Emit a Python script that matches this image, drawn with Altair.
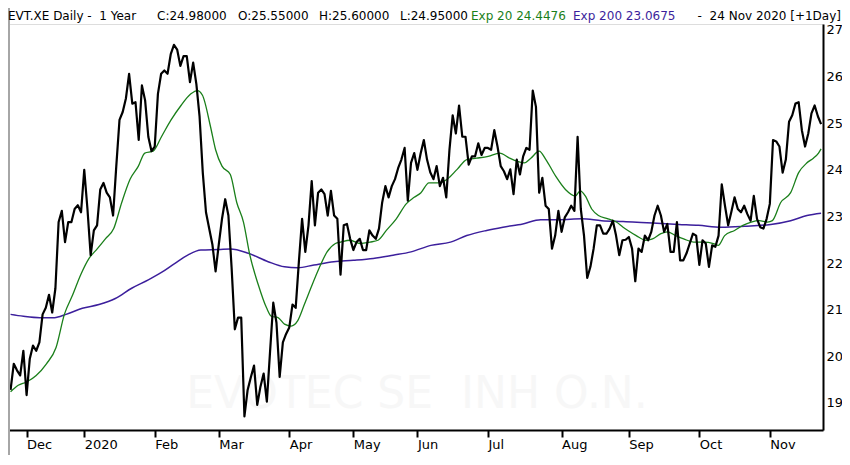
import altair as alt
import pandas as pd

# ---- data (trading-day index 0 = 25 Nov 2019) ----
CLOSE = [
    19.28, 19.84, 19.70, 19.59, 20.12, 19.17, 19.95, 20.23, 20.12, 20.30,
    20.90, 21.04, 21.32, 20.94, 21.46, 22.88, 23.12, 22.45, 22.88, 22.88,
    23.16, 23.24, 23.09, 24.00, 23.16, 22.17, 22.70, 22.81, 23.58, 23.72,
    23.51, 23.41, 23.02, 24.08, 25.07, 25.24, 25.53, 26.06, 25.42, 25.45,
    24.64, 25.81, 25.49, 24.71, 24.40, 24.50, 25.63, 26.06, 26.13, 26.06,
    26.48, 26.68, 26.58, 26.23, 26.44, 26.44, 25.88, 26.30, 25.84, 25.14,
    23.94, 23.09, 22.74, 22.40, 21.82, 22.40, 22.95, 23.37, 23.02, 21.90,
    20.58, 20.83, 20.83, 18.71, 19.28, 19.55, 19.80, 18.96, 19.35, 19.63,
    19.03, 20.10, 21.15, 20.72, 19.56, 20.30, 20.48, 20.62, 21.11, 21.04,
    22.03, 22.95, 22.24, 22.81, 23.76, 22.81, 23.51, 23.58, 23.48, 23.02,
    23.55, 23.02, 22.95, 21.75, 22.81, 22.84, 22.52, 22.28, 22.45, 22.52,
    22.28, 22.28, 22.70, 22.59, 22.52, 22.74, 23.30, 23.65, 23.41, 23.65,
    23.80, 24.04, 24.22, 24.47, 23.34, 24.15, 24.36, 24.00, 24.35, 24.64,
    24.22, 23.95, 23.80, 24.08, 23.65, 23.83, 23.41, 24.43, 25.17, 24.78,
    25.38, 24.71, 24.71, 24.11, 24.29, 24.29, 24.57, 24.32, 24.47, 24.47,
    24.43, 24.85, 24.50, 24.08, 23.97, 23.80, 24.01, 23.48, 24.22, 23.90,
    24.29, 24.47, 24.43, 25.70, 25.35, 23.51, 23.83, 23.23, 23.16, 22.31,
    22.59, 23.12, 22.67, 22.98, 23.09, 23.23, 23.12, 24.71, 23.16, 22.59,
    21.68, 21.92, 22.31, 22.81, 22.81, 22.63, 22.63, 22.74, 22.91, 22.59,
    22.17, 22.49, 22.50, 22.56, 22.31, 21.61, 22.31, 22.24, 22.59, 22.49,
    22.67, 23.02, 23.23, 23.02, 22.67, 22.84, 22.24, 22.24, 22.88, 22.06,
    22.06, 22.21, 22.42, 22.63, 22.59, 21.96, 22.49, 22.42, 21.92, 22.38,
    22.35, 22.59, 23.69, 23.23, 22.81, 23.10, 23.41, 23.16, 23.09, 23.23,
    23.05, 22.91, 23.44, 22.95, 22.77, 22.74, 22.95, 23.27, 24.64, 24.61,
    24.50, 23.94, 24.22, 25.03, 25.17, 25.42, 25.45, 24.85, 24.50, 24.78,
    25.21, 25.38, 25.15, 24.98,
]

EMA20_DAY = [0, 2.4, 5, 8, 11.2, 14.2, 16.8, 19.4, 21.9, 24.5, 27.1, 29.6, 32.2,
             34.7, 37.3, 39.9, 41.9, 44.5, 47.1, 50.1, 53.2, 56.3, 58.3, 59.9,
             62.4, 64, 66, 68.6, 70.6, 72.7, 74.7, 77.3, 79.9, 81.4, 83.5, 85.5,
             87.6, 89.6, 91.7, 93.7, 96.3, 98.8, 101.4, 103, 106, 109.1, 112.2,
             114.7, 117.3, 120.4, 123.5, 126, 128.1, 130.6, 133.2, 136.3, 139.4,
             142.4, 145.5, 149.1, 152.7, 155.8, 158.3, 160.4, 162.4, 165, 167.1,
             170.1, 173.2, 176.3, 177.8, 179.4, 181.4, 183.5, 186.5, 189.1, 191.2,
             192.7, 195.3, 198.3, 200.4, 203, 205, 207.6, 210.1, 213.2, 216.3,
             219.4, 220.9, 222.9, 226, 228.6, 231.2, 233.7, 236.3, 237.8, 240.4,
             243.5, 246, 248.6, 250.6, 252.2, 253]
EMA20 = [19.24, 19.38, 19.45, 19.59, 19.84, 20.19, 20.90, 21.32, 21.75, 22.10, 22.31,
         22.52, 22.74, 23.30, 23.80, 24.08, 24.36, 24.40, 24.71, 25.07, 25.38, 25.63,
         25.70, 25.60, 24.93, 24.43, 24.08, 23.90, 23.30, 22.88, 22.17, 21.54, 21.04,
         20.86, 20.83, 20.69, 20.65, 20.76, 21.11, 21.46, 21.89, 22.24, 22.42, 22.45,
         22.49, 22.42, 22.45, 22.49, 22.70, 22.95, 23.27, 23.41, 23.51, 23.72, 23.72,
         23.80, 24.01, 24.22, 24.25, 24.29, 24.36, 24.25, 24.18, 24.15, 24.25, 24.40,
         24.22, 23.87, 23.58, 23.44, 23.55, 23.44, 23.16, 23.02, 22.95, 22.88, 22.77,
         22.70, 22.59, 22.49, 22.52, 22.63, 22.67, 22.59, 22.52, 22.45, 22.45, 22.42,
         22.38, 22.59, 22.70, 22.81, 22.88, 22.91, 22.88, 22.91, 23.30, 23.51, 23.94,
         24.15, 24.25, 24.36, 24.45]

EMA200_DAY = [0, 4, 9.1, 13.7, 17.3, 22.4, 27.6, 32.7, 37.8, 43, 47.1, 51.2, 55.3,
              59.4, 65, 68.6, 74.2, 80.4, 85.5, 89.6, 94.7, 100.9, 107, 113.2, 119.4,
              125, 131.2, 137.3, 142.4, 148.6, 153.7, 159.9, 165.5, 171.2, 178.3,
              184.5, 191.2, 194.2, 200.4, 208.6, 214.7, 221.9, 229.1, 237.3, 243.5,
              248.6, 253]
EMA200 = [20.90, 20.86, 20.83, 20.83, 20.90, 21.03, 21.11, 21.24, 21.46, 21.64, 21.80,
          21.99, 22.17, 22.28, 22.29, 22.30, 22.21, 22.03, 21.92, 21.90, 21.96, 22.03,
          22.06, 22.10, 22.17, 22.24, 22.38, 22.45, 22.59, 22.70, 22.77, 22.84, 22.93,
          22.93, 22.95, 22.91, 22.89, 22.88, 22.86, 22.83, 22.81, 22.77, 22.79, 22.83,
          22.91, 23.02, 23.07]

TICK_DAYS = [5, 23, 45, 65, 87, 107, 127, 149, 172, 193, 215, 237]
TICK_LABELS = ["Dec", "2020", "Feb", "Mar", "Apr", "May", "Jun", "Jul", "Aug",
               "Sep", "Oct", "Nov"]
Y_TICKS = [19, 20, 21, 22, 23, 24, 25, 26, 27]

# ---- frames ----
price_df = pd.DataFrame({"day": list(range(len(CLOSE))), "close": CLOSE})
ema20_df = pd.DataFrame({"day": EMA20_DAY, "v": EMA20})
ema200_df = pd.DataFrame({"day": EMA200_DAY, "v": EMA200})

FONT = "DejaVu Sans"
GREEN = "#1a7f1a"
PURPLE = "#3c1f9c"

label_expr = "''"
for d, lab in reversed(list(zip(TICK_DAYS, TICK_LABELS))):
    label_expr = f"datum.value == {d} ? '{lab}' : ({label_expr})"

x_scale = alt.Scale(domain=[-0.8, 253.6], nice=False, zero=False)
y_scale = alt.Scale(domain=[18.42, 27.128], nice=False, zero=False)

x_axis = alt.Axis(values=TICK_DAYS, labelExpr=label_expr, title=None, grid=False,
                  domainColor="black", domainWidth=2, tickColor="black", tickWidth=2,
                  tickSize=7, labelAlign="left", labelPadding=1, labelFont=FONT,
                  labelFontSize=13, labelColor="black", labelFlush=False,
                  labelOverlap=False)
y_axis = alt.Axis(values=Y_TICKS, orient="right", title=None, grid=False, ticks=False,
                  domainColor="black", domainWidth=2, labelPadding=3, labelFont=FONT,
                  labelFontSize=13, labelColor="black", labelFlush=False,
                  labelOverlap=False, format="d")

one = pd.DataFrame({"k": [0]})

watermark = alt.Chart(one).mark_text(
    text="EVOTEC SE\u00a0\u00a0INH O.N.", font=FONT, fontSize=44, color="#f7f7f7",
    align="center", baseline="alphabetic"
).encode(x=alt.value(409), y=alt.value(384))

ema200_line = alt.Chart(ema200_df).mark_line(color=PURPLE, strokeWidth=1.5,
                                              interpolate="monotone").encode(
    x=alt.X("day:Q", scale=x_scale, axis=x_axis),
    y=alt.Y("v:Q", scale=y_scale, axis=y_axis),
)
ema20_line = alt.Chart(ema20_df).mark_line(color=GREEN, strokeWidth=1.3,
                                            interpolate="monotone").encode(
    x=alt.X("day:Q", scale=x_scale),
    y=alt.Y("v:Q", scale=y_scale),
)
price_line = alt.Chart(price_df).mark_line(color="black", strokeWidth=2.2,
                                            strokeJoin="round").encode(
    x=alt.X("day:Q", scale=x_scale),
    y=alt.Y("close:Q", scale=y_scale),
)

TITLE_Y = -4.5


def label(text, x, color="black", size=12, align="left"):
    return alt.Chart(one).mark_text(
        text=text, font=FONT, fontSize=size, color=color, align=align,
        baseline="alphabetic"
    ).encode(x=alt.value(x), y=alt.value(TITLE_Y))


title_layers = [
    label("EVT.XE Daily -\u00a0\u00a01 Year", 0),
    label("C:24.98000", 149),
    label("O:25.55000", 230),
    label("H:25.60000", 311),
    label("L:24.95000", 392),
    label("Exp 20 24.4476", 463, GREEN),
    label("Exp 200 23.0675", 565, PURPLE),
    label("-\u00a0\u00a024 Nov 2020 [+1Day]", 833, align="right"),
]

left_border = alt.Chart(one).mark_rule(color="#a6a6a6", strokeWidth=2).encode(
    x=alt.value(1), y=alt.value(-16), y2=alt.value(431)
)

chart = alt.layer(
    watermark, ema200_line, ema20_line, price_line, left_border, *title_layers
).properties(
    width=815, height=406,
    autosize=alt.AutoSizeParams(type="none"),
    padding={"left": 0, "top": 16, "right": 19, "bottom": 25},
).configure_view(stroke=None).configure(background="white")

chart.save("out.html", embed_options={"renderer": "svg", "actions": False})
